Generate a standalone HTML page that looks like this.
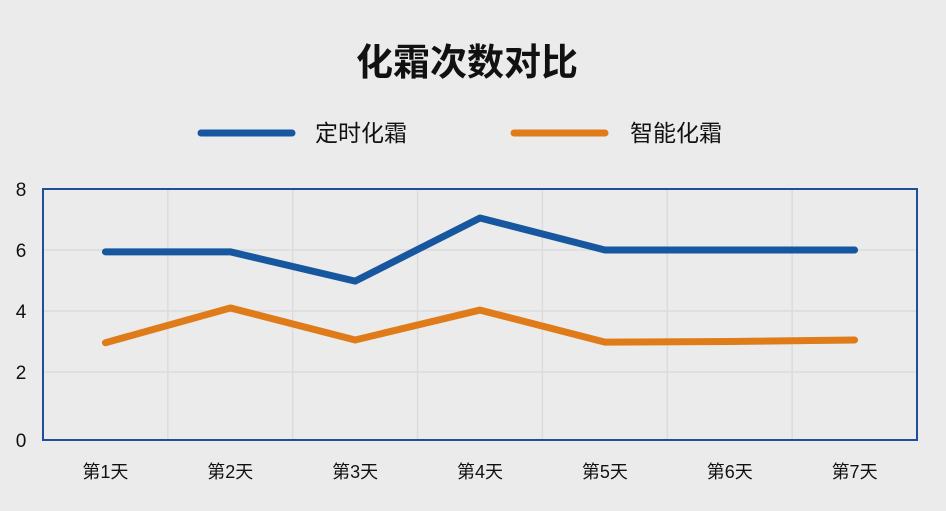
<!DOCTYPE html>
<html><head><meta charset="utf-8"><style>
html,body{margin:0;padding:0;background:#ecebeb;}
svg{display:block;font-family:"Liberation Sans","Noto Sans CJK SC",sans-serif;}
</style></head><body>
<svg width="946" height="511" viewBox="0 0 946 511">
<rect width="946" height="511" fill="#ecebeb"/>
<text x="467" y="75" text-anchor="middle" font-size="37" font-weight="bold" fill="#111">化霜次数对比</text>
<g>
<g>
<line x1="201" y1="133" x2="292" y2="133" stroke="#1657a0" stroke-width="7" stroke-linecap="round"/>
<text x="315" y="141" font-size="23" fill="#111">定时化霜</text></g>
<g>
<line x1="514" y1="133" x2="605" y2="133" stroke="#e07b1a" stroke-width="7" stroke-linecap="round"/>
<text x="630" y="141" font-size="23" fill="#111">智能化霜</text></g>
</g>
<g id="grid"></g>
<g id="axes"></g>
<g id="series"></g>
<rect x="43" y="189" width="874" height="251" fill="none" stroke="#1f4f9a" stroke-width="2"/>
</svg>
<script>
const categories = ["第1天","第2天","第3天","第4天","第5天","第6天","第7天"];
const timedValues = [5.94, 5.94, 4.98, 7.05, 6.0, 6.0, 6.0];
const smartValues = [2.96, 4.1, 3.05, 4.03, 2.98, 3.0, 3.05];
const yTicks = [0, 2, 4, 6, 8];
const L=43, R=917, T=189, B=440, Y0=433;
const NS="http://www.w3.org/2000/svg";
const band=(R-L)/categories.length;
const x=i=>L+band*(i+0.5);
const y=v=>Y0-(Y0-T)*v/8;
function mk(tag,attrs,parent){const e=document.createElementNS(NS,tag);for(const k in attrs)e.setAttribute(k,attrs[k]);parent.appendChild(e);return e;}
const grid=document.getElementById('grid'),axes=document.getElementById('axes'),series=document.getElementById('series');
for(let i=1;i<categories.length;i++){
  const l=mk('line',{x1:L+band*i,x2:L+band*i,y1:T,y2:B,stroke:'#dcdbdb','stroke-width':1.5},grid);
  
  
}
yTicks.forEach(v=>{
  if(v>0&&v<8){
    const l=mk('line',{x1:L,x2:R,y1:y(v),y2:y(v),stroke:'#dcdbdb','stroke-width':1.5},grid);
    
    
  }
  const ty=v===0?B:y(v);
  const t=mk('text',{x:21,y:ty+7,'text-anchor':'middle','font-size':19,fill:'#111'},axes);
  t.textContent=v;
  
  
});
categories.forEach((c,i)=>{
  const t=mk('text',{x:x(i),y:478,'text-anchor':'middle','font-size':18,fill:'#111'},axes);
  t.textContent=c;
  
  
});
function line(vals,color,name){
  const p=mk('polyline',{points:vals.map((v,i)=>x(i)+','+y(v)).join(' '),fill:'none',stroke:color,'stroke-width':7,'stroke-linecap':'round','stroke-linejoin':'round'},series);
  
  
}
line(smartValues,'#e07b1a','smart-defrost-line');
line(timedValues,'#1657a0','timed-defrost-line');
</script>
</body></html>
